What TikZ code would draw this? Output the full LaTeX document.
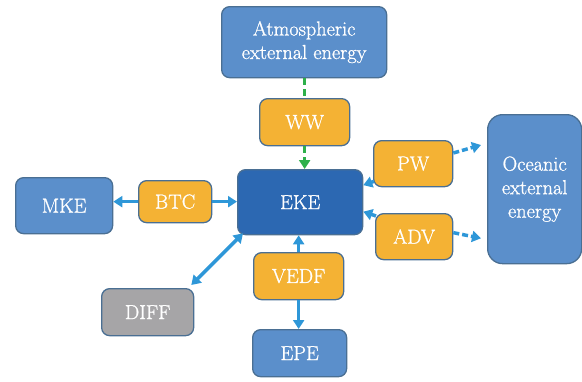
\documentclass[tikz,border=0pt]{standalone}
\usepackage{fontspec}
\newfontfamily\boxfont{Latin Modern Roman}[FakeBold=1]
\usetikzlibrary{arrows.meta}
\definecolor{lblue}{HTML}{5B8FCB}
\definecolor{dblue}{HTML}{2C68B2}
\definecolor{orng}{HTML}{F4B234}
\definecolor{gry}{HTML}{A6A5A7}
\definecolor{edgec}{HTML}{4A6F93}
\definecolor{arrblue}{HTML}{2E97D8}
\definecolor{grn}{HTML}{2EB04A}
\begin{document}
\begin{tikzpicture}[x=1pt,y=-1pt,
  box/.style={draw=edgec, line width=1.3pt, rounded corners=8pt, anchor=north west,
    text=white, font=\boxfont\fontsize{20.3}{23.5}\selectfont, align=center, inner sep=0pt},
  lbox/.style={box, fill=lblue},
  obox/.style={box, fill=orng},
  arr/.style={draw=arrblue, line width=3.5pt, -{Triangle[length=9pt,width=11pt]}},
  darr/.style={draw=arrblue, line width=3.5pt, {Triangle[length=9pt,width=11pt]}-{Triangle[length=9pt,width=11pt]}},
  bdash/.style={arr, dash pattern=on 6pt off 3pt},
  gdash/.style={draw=grn, line width=3.5pt, dash pattern=on 7pt off 4pt}
]
\useasboundingbox (0,0) rectangle (582,381);
\node[lbox, minimum width=165pt, minimum height=71pt] (atm) at (221,6) {Atmospheric\\external energy};
\node[obox, minimum width=90pt, minimum height=47pt] (ww) at (259,98) {WW};
\node[box, fill=dblue, minimum width=125pt, minimum height=65pt] (eke) at (237,169) {EKE};
\node[obox, minimum width=79pt, minimum height=46pt] (pw) at (373,140) {PW};
\node[obox, minimum width=77pt, minimum height=46pt] (adv) at (375,213) {ADV};
\node[lbox, rounded corners=15pt, minimum width=94pt, minimum height=149pt] (ocean) at (487,114) {Oceanic\\external\\energy};
\node[lbox, minimum width=97pt, minimum height=56pt] (mke) at (15,177) {MKE};
\node[obox, minimum width=73pt, minimum height=42pt] (btc) at (138,180) {BTC};
\node[box, fill=gry, minimum width=92pt, minimum height=47pt] (diff) at (101,288) {DIFF};
\node[obox, minimum width=90pt, minimum height=47pt] (vedf) at (253,252) {VEDF};
\node[lbox, minimum width=94pt, minimum height=47pt] (epe) at (252,329) {EPE};

\draw[gdash] (ww.north |- atm.south) -- (ww.north);
\draw[gdash, -{Triangle[length=9pt,width=11pt]}] (ww.south) -- (eke.north -| ww.south);
\draw[arr] (btc.west) -- (mke.east |- btc.west);
\draw[arr] (btc.east) -- (eke.west |- btc.east);
\draw[darr] ([shift={(-3,-3)}]diff.north east) -- ([shift={(6,-2)}]eke.south west);
\draw[arr] (vedf.north) -- (eke.south -| vedf.north);
\draw[arr] (vedf.south) -- (epe.north -| vedf.south);
\draw[bdash] ([shift={(1,-6)}]pw.south west) -- ([shift={(0,-17)}]eke.east);
\draw[bdash] ([shift={(1,3)}]adv.north west) -- ([shift={(0,9.5)}]eke.east);
\draw[bdash] ([shift={(0,13)}]pw.north east) -- ([shift={(-6,31)}]ocean.north west);
\draw[bdash] ([shift={(0,-4)}]adv.east) -- ([shift={(-6,-26)}]ocean.south west);
\end{tikzpicture}
\end{document}
